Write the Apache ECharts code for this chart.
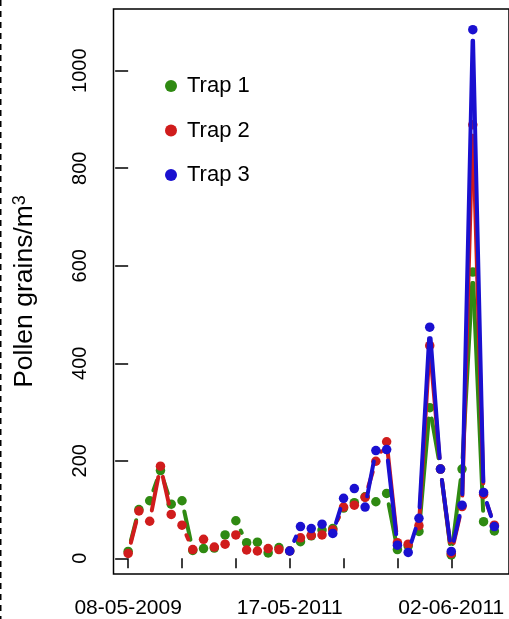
<!DOCTYPE html>
<html>
<head>
<meta charset="utf-8">
<script src="https://cdn.jsdelivr.net/npm/echarts@6/dist/echarts.min.js"></script>
<style>
  html, body { margin: 0; padding: 0; background: #fff; }
  #chart { width: 509px; height: 619px; }
</style>
</head>
<body>
<div id="chart"></div>
<script>
// Weekly pollen counts (grains per cubic metre) for three traps, by sample number
const trap1 = [14, 100, 118, 180, 111, 118, 16, 20, 21, 48, 77, 32, 33, 11, 22, 15, 34, 46, 58, 61, 103, 114, 126, 116, 133, 18, 25, 55, 309, 183, 7, 183, 587, 75, 56];
const trap2 = [10, 97, 76, 189, 90, 68, 18, 39, 23, 29, 48, 17, 15, 20, 18, 15, 42, 47, 48, 58, 105, 109, 125, 199, 239, 32, 29, 67, 436, 183, 10, 106, 889, 131, 68];
const trap3 = [null, null, null, null, null, null, null, null, null, null, null, null, null, null, null, 15, 65, 61, 70, 51, 123, 143, 105, 221, 223, 27, 12, 82, 474, 183, 14, 109, 1084, 135, 65];

const seriesNames = ['Trap 1', 'Trap 2', 'Trap 3'];
const seriesColors = ['#2f8a12', '#d01c1c', '#1a10d0'];

// x-axis ticks (sample numbers) and the dates written under some of them
const xTickValues = [0, 5, 10, 15, 20, 25, 30];
const xLabelValues = [0, 15, 30];
const xLabelTexts = ['08-05-2009', '17-05-2011', '02-06-2011'];
const yTickValues = [0, 200, 400, 600, 800, 1000];

const GAP = 11;        // blank space left around each point on the connecting lines
const LINE_W = 4;

// consecutive pairs of points, used for the gapped connecting segments
function segments(vals) {
  const out = [];
  for (let i = 0; i < vals.length - 1; i++) {
    if (vals[i] != null && vals[i + 1] != null) out.push([i, vals[i], i + 1, vals[i + 1]]);
  }
  return out;
}

function gappedLine(color) {
  return function (params, api) {
    const p0 = api.coord([api.value(0), api.value(1)]);
    const p1 = api.coord([api.value(2), api.value(3)]);
    const dx = p1[0] - p0[0], dy = p1[1] - p0[1];
    const len = Math.hypot(dx, dy);
    if (len <= 2 * GAP) return { type: 'group', children: [] };
    const ux = dx / len, uy = dy / len;
    return {
      type: 'line',
      shape: { x1: p0[0] + ux * GAP, y1: p0[1] + uy * GAP, x2: p1[0] - ux * GAP, y2: p1[1] - uy * GAP },
      style: { stroke: color, lineWidth: LINE_W, lineCap: 'round' }
    };
  };
}

const allValues = [trap1, trap2, trap3];
const series = [];
allValues.forEach((vals, k) => {
  series.push({
    name: seriesNames[k] + ' line',
    type: 'custom',
    z: 2 + 2 * k,
    silent: true,
    renderItem: gappedLine(seriesColors[k]),
    encode: { x: [0, 2], y: [1, 3] },
    data: segments(vals)
  });
  series.push({
    name: seriesNames[k],
    type: 'scatter',
    z: 3 + 2 * k,
    symbol: 'circle',
    symbolSize: 9.5,
    itemStyle: { color: seriesColors[k], opacity: 1 },
    data: vals.map((v, i) => (v == null ? null : [i, v]))
  });
});

const chart = echarts.init(document.getElementById('chart'), null, { renderer: 'canvas' });
chart.setOption({
  backgroundColor: '#ffffff',
  animation: false,
  textStyle: { fontFamily: 'Liberation Sans, Arial, sans-serif' },
  grid: {
    left: 113.5, top: 9, width: 399, height: 565,
    show: true, borderColor: '#000', borderWidth: 1.5, backgroundColor: 'transparent'
  },
  legend: {
    orient: 'vertical',
    left: 160, top: 69,
    icon: 'circle',
    itemWidth: 22, itemHeight: 12,
    itemGap: 20.5,
    data: seriesNames,
    textStyle: { fontSize: 22, color: '#000', lineHeight: 24, fontFamily: 'Liberation Sans, Arial, sans-serif' }
  },
  xAxis: {
    type: 'value',
    min: -1.36, max: 35.36,
    offset: 2,
    splitLine: { show: false },
    axisLine: { show: false },
    axisTick: { show: true, length: 10, customValues: xTickValues, lineStyle: { color: '#000', width: 1.5 } },
    axisLabel: {
      customValues: xLabelValues,
      margin: 22,
      fontSize: 21,
      color: '#000',
      formatter: v => xLabelTexts[xLabelValues.indexOf(Math.round(v))] || ''
    }
  },
  yAxis: {
    type: 'value',
    min: -32.2, max: 1126.5,
    splitLine: { show: false },
    axisLine: { show: false },
    axisTick: { show: true, length: 13, customValues: yTickValues, lineStyle: { color: '#000', width: 1.5 } },
    axisLabel: {
      customValues: yTickValues,
      rotate: 90,
      margin: 23,
      fontSize: 20,
      color: '#000',
      formatter: v => String(v)
    },
    name: 'Pollen grains/m{sup|3}',
    nameLocation: 'middle',
    nameRotate: 90,
    nameGap: 75,
    nameTextStyle: {
      fontSize: 26.5,
      color: '#000',
      rich: { sup: { fontSize: 18, verticalAlign: 'top', color: '#000' } }
    }
  },
  graphic: [{
    type: 'line',
    silent: true,
    shape: { x1: 0.75, y1: 0, x2: 0.75, y2: 619 },
    style: { stroke: '#000', lineWidth: 1.5, lineDash: [6, 5] }
  }],
  series: series
});
</script>
</body>
</html>
